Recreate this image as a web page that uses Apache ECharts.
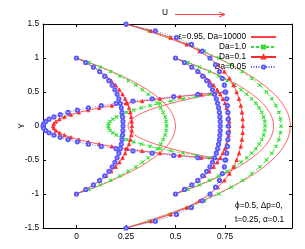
<!DOCTYPE html>
<html><head><meta charset="utf-8">
<script src="https://cdn.jsdelivr.net/npm/echarts@6/dist/echarts.min.js"></script>
<style>html,body{margin:0;padding:0;background:#fff}#c{width:305px;height:249px}</style>
</head><body><div id="c"></div>
<script>
// Profile stations (x position of wall point) and half widths (wall y)
const stationX = [0, 0.25, 0.5, 0.75];
const halfWidth = [1, 1.5, 1, 0.5];
// Series names (legend)
const seriesNames = ['ε=0.95, Da=10000', 'Da=1.0', 'Da=0.1', 'Da=0.05'];
// x tick labels
const xTicks = [0, 0.25, 0.5, 0.75];
const yTicks = [-1.5, -1, -0.5, 0, 0.5, 1, 1.5];
// x positions of each profile curve from centre (y=0) to wall (y=h), 16 samples equally spaced in y
// Profile at x=0 (h=1)
const p0_Da10000 = [0.5, 0.4978, 0.4911, 0.48, 0.4644, 0.4444, 0.42, 0.3911, 0.3578, 0.32, 0.2778, 0.2311, 0.18, 0.1244, 0.0644, 0];
const p0_Da1     = [0.455, 0.4531, 0.4475, 0.4382, 0.4251, 0.4081, 0.3871, 0.3621, 0.3331, 0.2996, 0.2619, 0.2194, 0.1723, 0.1202, 0.0629, 0];
const p0_Da01    = [0.28, 0.2791, 0.2764, 0.2718, 0.2652, 0.2566, 0.2458, 0.2326, 0.2167, 0.1978, 0.1757, 0.15, 0.1201, 0.0856, 0.0458, 0];
const p0_Da005   = [0.235, 0.2345, 0.2329, 0.2302, 0.2263, 0.2209, 0.214, 0.2052, 0.1941, 0.1804, 0.1634, 0.1425, 0.1169, 0.0855, 0.047, 0];
// Profile at x=0.25 (h=1.5)
const p1_Da10000 = [1.08, 1.0763, 1.0652, 1.0468, 1.021, 0.9878, 0.9472, 0.8992, 0.8439, 0.7812, 0.7111, 0.6336, 0.5488, 0.4566, 0.357, 0.25];
const p1_Da1     = [1.033, 1.0301, 1.0214, 1.0068, 0.9861, 0.9591, 0.9257, 0.8852, 0.8376, 0.7823, 0.7185, 0.646, 0.5637, 0.4709, 0.3667, 0.25];
const p1_Da01    = [0.84, 0.8389, 0.8354, 0.8294, 0.8206, 0.8086, 0.7929, 0.7724, 0.7465, 0.7138, 0.6726, 0.621, 0.5565, 0.4759, 0.3754, 0.25];
const p1_Da005   = [0.766, 0.7656, 0.7644, 0.7622, 0.7587, 0.7537, 0.7465, 0.7364, 0.7221, 0.7021, 0.6742, 0.6351, 0.5805, 0.5045, 0.3982, 0.25];
// Profile at x=0.5 (h=1)
const p2_Da10000 = [0.995, 0.9928, 0.9862, 0.9752, 0.9598, 0.94, 0.9158, 0.8872, 0.8542, 0.8168, 0.775, 0.7288, 0.6782, 0.6232, 0.5638, 0.5];
const p2_Da1     = [0.952, 0.9501, 0.9446, 0.9353, 0.9223, 0.9054, 0.8845, 0.8597, 0.8309, 0.7976, 0.7601, 0.718, 0.6712, 0.6194, 0.5625, 0.5];
const p2_Da01    = [0.772, 0.7711, 0.7685, 0.764, 0.7577, 0.7493, 0.7388, 0.7259, 0.7105, 0.6922, 0.6707, 0.6457, 0.6167, 0.5831, 0.5444, 0.5];
const p2_Da005   = [0.726, 0.7255, 0.724, 0.7214, 0.7176, 0.7125, 0.7058, 0.6973, 0.6867, 0.6735, 0.6572, 0.6371, 0.6124, 0.5822, 0.5452, 0.5];
// Profile at x=0.75 (h=0.5)
const p3_Da10000 = [0.26, 0.2622, 0.2687, 0.2796, 0.2948, 0.3144, 0.3384, 0.3667, 0.3994, 0.4364, 0.4778, 0.5235, 0.5736, 0.628, 0.6868, 0.75];
const p3_Da1     = [0.16, 0.1626, 0.1705, 0.1836, 0.2019, 0.2255, 0.2544, 0.2885, 0.3278, 0.3724, 0.4222, 0.4773, 0.5376, 0.6031, 0.6739, 0.75];
const p3_Da01    = [-0.118, -0.1144, -0.1038, -0.086, -0.0609, -0.0285, 0.0116, 0.0592, 0.1146, 0.1784, 0.2505, 0.3314, 0.4213, 0.5208, 0.63, 0.75];
const p3_Da005   = [-0.169, -0.1656, -0.1554, -0.1382, -0.114, -0.0822, -0.043, 0.0044, 0.0603, 0.1253, 0.2001, 0.2853, 0.3818, 0.4908, 0.6131, 0.75];

const curves = [
  [p0_Da10000, p1_Da10000, p2_Da10000, p3_Da10000],
  [p0_Da1, p1_Da1, p2_Da1, p3_Da1],
  [p0_Da01, p1_Da01, p2_Da01, p3_Da01],
  [p0_Da005, p1_Da005, p2_Da005, p3_Da005]
];

function profilePoints(pi, xs) {
  const h = halfWidth[pi], n = xs.length - 1, pts = [];
  for (let k = n; k >= 0; k--) pts.push([xs[k], h * k / n]);
  for (let k = 1; k <= n; k++) pts.push([xs[k], -h * k / n]);
  return pts;
}

const FONT = 'Liberation Sans, Arial, sans-serif';
const crossPath = 'path://M0,1L1,0L5,4L9,0L10,1L6,5L10,9L9,10L5,6L1,10L0,9L4,5Z';
const styles = [
  { color: '#ff4040', type: 'solid', symbol: 'circle', size: 0, show: false },
  { color: '#30dd30', type: [3, 2], symbol: crossPath, size: 3.2, show: true },
  { color: '#ff2a2a', type: 'solid', symbol: 'triangle', size: 3.4, show: true },
  { color: '#5a5aff', type: [1, 1.5], symbol: 'emptyCircle', size: 3.2, show: true }
];

const series = [];
for (let s = 0; s < 4; s++) {
  for (let p = 0; p < 4; p++) {
    const st = styles[s];
    series.push({
      type: 'line', name: seriesNames[s],
      data: profilePoints(p, curves[s][p]),
      symbol: st.symbol, symbolSize: st.size, showSymbol: st.show,
      lineStyle: { color: st.color, width: 0.8, type: st.type },
      itemStyle: { color: st.color, borderColor: st.color, borderWidth: 0.8 },
      animation: false, silent: true, z: 2 + s
    });
  }
}

const legendData = seriesNames.map((n, i) => i === 0 ? { name: n, itemStyle: { opacity: 0 } } : { name: n });

const chart = echarts.init(document.getElementById('c'), null, { renderer: 'canvas' });
const axisCommon = {
  axisLine: { show: true, onZero: false, lineStyle: { color: '#000', width: 1 } },
  splitLine: { show: false }
};
chart.setOption({
  animation: false,
  textStyle: { fontFamily: FONT },
  grid: { left: 43, right: 13, top: 24, bottom: 21 },
  xAxis: [
    Object.assign({ type: 'value', min: -0.169, max: 1.088, position: 'bottom',
      axisTick: { inside: true, length: 3, customValues: xTicks, lineStyle: { color: '#000' } },
      axisLabel: { customValues: xTicks, margin: 5, fontSize: 8.3, color: '#000', fontFamily: FONT }
    }, axisCommon),
    Object.assign({ type: 'value', min: -0.169, max: 1.088, position: 'top',
      axisTick: { inside: true, length: 3, customValues: xTicks, lineStyle: { color: '#000' } },
      axisLabel: { show: false }
    }, axisCommon)
  ],
  yAxis: [
    Object.assign({ type: 'value', min: -1.5, max: 1.5, interval: 0.5, position: 'left',
      name: 'Y', nameLocation: 'middle', nameGap: 17, nameRotate: 90, nameMoveOverlap: false,
      nameTextStyle: { fontSize: 8.3, color: '#000', fontFamily: FONT },
      axisTick: { inside: true, length: 3, lineStyle: { color: '#000' } },
      axisLabel: { margin: 4, fontSize: 8.3, color: '#000', fontFamily: FONT }
    }, axisCommon),
    Object.assign({ type: 'value', min: -1.5, max: 1.5, interval: 0.5, position: 'right',
      axisTick: { inside: true, length: 3, lineStyle: { color: '#000' } },
      axisLabel: { show: false }
    }, axisCommon)
  ],
  legend: {
    data: legendData, orient: 'vertical', right: 23, top: 27, align: 'right',
    itemWidth: 25, itemHeight: 4, itemGap: 0, selectedMode: false,
    textStyle: { fontSize: 8.3, color: '#000', fontFamily: FONT, lineHeight: 10 }
  },
  graphic: [
    { type: 'text', left: 162, top: 9, style: { text: 'U', font: '8.3px ' + FONT, fill: '#000' } },
    { type: 'line', shape: { x1: 175, y1: 14.5, x2: 225, y2: 14.5 }, style: { stroke: '#ff4040', lineWidth: 1 } },
    { type: 'polyline', shape: { points: [[219, 12], [225, 14.5], [219, 17]] }, style: { stroke: '#ff4040', lineWidth: 1, fill: null } },
    { type: 'text', x: 235, y: 206, style: { text: 'ϕ=0.5, Δp=0,', font: '8.3px ' + FONT, fill: '#000', verticalAlign: 'middle' } },
    { type: 'text', x: 235, y: 219.5, style: { text: 't=0.25, α=0.1', font: '8.3px ' + FONT, fill: '#000', verticalAlign: 'middle' } }
  ],
  series: series
});
</script></body></html>
